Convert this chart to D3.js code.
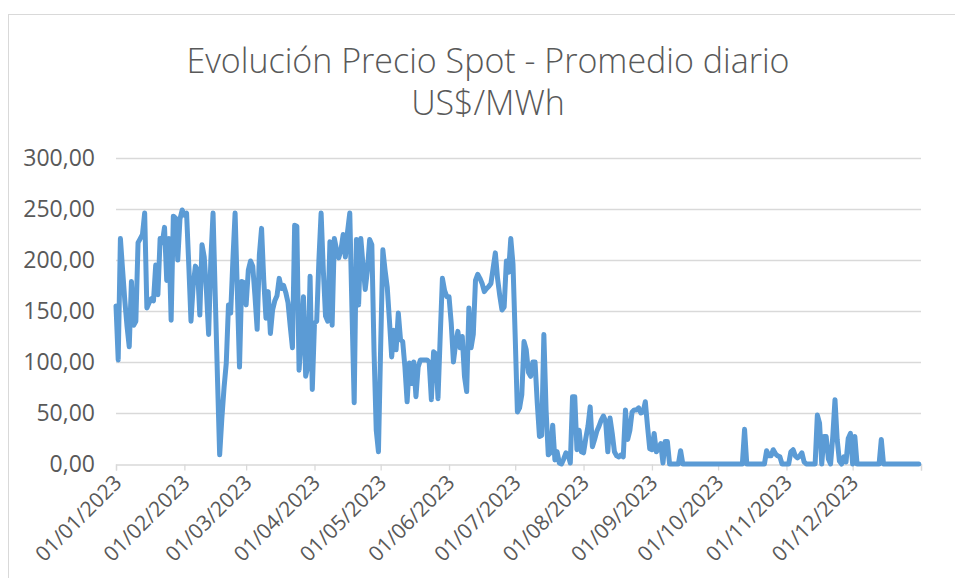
<!DOCTYPE html>
<html>
<head>
<meta charset="utf-8">
<script src="https://cdn.jsdelivr.net/npm/d3@7"></script>
<style>
  body { margin: 0; background: #fff; }
  text { font-family: "Open Sans", "Liberation Sans", sans-serif; fill: #595959; }
</style>
</head>
<body>
<svg id="chart"></svg>
<script>
// daily average spot price, US$/MWh, one array per month of 2023
const jan = [155,102,221,190,160,135,115,179,136,140, 217,221,225,246,153,158,162,160,195,166, 221,217,232,180,221,141,243,241,200,240, 249];
const feb = [244,246,195,140,175,194,190,146,215,203, 170,127,200,246,165,85,9,45,75,99, 156,148,200,246,170,95,179,178];
const mar = [156,190,199,194,165,132,205,231,180,143, 169,128,151,160,165,182,172,175,168,158, 135,114,234,233,92,125,164,86,96,184, 73];
const apr = [138,140,200,246,190,145,140,218,136,221, 210,202,210,225,203,228,246,150,60,220, 156,221,195,171,190,220,215,110,33,12];
const may = [115,210,190,173,140,105,131,112,148,122, 120,95,61,99,79,100,66,95,102,102, 102,102,100,63,110,108,64,125,182,170, 164];
const jun = [164,138,100,118,130,114,125,86,71,153, 114,127,180,186,182,177,169,172,174,177, 192,207,182,165,151,154,199,188,221,196];
const jul = [125,51,55,68,120,112,90,86,100,100, 60,27,28,127,53,9,11,38,4,12, 1,0,5,11,9,1,66,66,14,33, 12];
const aug = [11,25,37,56,17,24,32,37,43,47, 42,12,45,30,12,8,7,9,7,53, 24,33,51,53,53,55,50,51,61,37, 15];
const sep = [14,30,12,15,20,1,22,22,0,0, 0,0,0,13,0,0,0,0,0,0, 0,0,0,0,0,0,0,0,0,0];
const oct = [0,0,0,0,0,0,0,0,0,0, 0,0,34,0,0,0,0,0,0,0, 0,0,13,8,8,14,10,8,7,0, 0];
const nov = [0,0,12,14,8,6,8,11,2,0, 0,0,0,0,48,40,0,27,27,5, 0,27,63,24,3,0,7,2,25,30];
const dec = [0,27,0,0,0,0,0,0,0,0, 0,0,0,24,0,0,0,0,0,0, 0,0,0,0,0,0,0,0,0,0, 0];

const yTicks = [0, 50, 100, 150, 200, 250, 300];
const titleLines = ["Evolución Precio Spot - Promedio diario", "US$/MWh"];

const width = 955, height = 578;
const start = new Date(2023, 0, 1);
const end = new Date(2024, 0, 1);

const values = [].concat(jan, feb, mar, apr, may, jun, jul, aug, sep, oct, nov, dec);
const data = values.map((v, i) => ({ date: d3.timeDay.offset(start, i), value: v }));

const svg = d3.select("#chart")
  .attr("width", width)
  .attr("height", height);

svg.append("rect")
  .attr("width", width)
  .attr("height", height)
  .attr("fill", "#fff");

// chart area border (runs off the right and bottom edge)
svg.append("rect")
  .attr("x", 8.5)
  .attr("y", 14.5)
  .attr("width", 1000)
  .attr("height", 700)
  .attr("fill", "none")
  .attr("stroke", "#d9d9d9");

const x = d3.scaleTime()
  .domain([start, end])
  .range([116, 921]);

const y = d3.scaleLinear()
  .domain([0, 300])
  .range([464, 158]);

const fmt = d3.formatLocale({ decimal: ",", thousands: ".", grouping: [3], currency: ["$", ""] }).format(",.2f");

// gridlines
svg.append("g")
  .selectAll("line")
  .data(yTicks.slice(1))
  .enter()
  .append("line")
  .attr("x1", 116)
  .attr("x2", 921)
  .attr("y1", d => Math.round(y(d)) + 0.5)
  .attr("y2", d => Math.round(y(d)) + 0.5)
  .attr("stroke", "#d9d9d9")
  .attr("stroke-width", 1.3);

// y labels
svg.append("g")
  .selectAll("text")
  .data(yTicks)
  .enter()
  .append("text")
  .attr("x", 95)
  .attr("y", d => y(d))
  .attr("dy", "0.36em")
  .attr("text-anchor", "end")
  .style("font-size", "23px")
  .text(d => fmt(d));

// x axis
const xAxis = svg.append("g")
  .attr("transform", `translate(0,${Math.round(y(0)) + 0.5})`)
  .call(d3.axisBottom(x)
    .tickValues(d3.timeMonth.range(start, d3.timeDay.offset(end, 1)))
    .tickSize(6)
    .tickFormat(""));
xAxis.select(".domain").attr("stroke", "#d9d9d9").attr("stroke-width", 1.3);
xAxis.selectAll(".tick line").attr("stroke", "#d9d9d9").attr("stroke-width", 1.3);

const fmtDate = d3.timeFormat("%d/%m/%Y");
svg.append("g")
  .selectAll("text")
  .data(d3.timeMonth.range(start, end))
  .enter()
  .append("text")
  .attr("transform", d => `translate(${x(d) + 7},${484}) rotate(-45)`)
  .attr("text-anchor", "end")
  .style("font-size", "21px")
  .text(d => fmtDate(d));

// series
const line = d3.line()
  .x(d => x(d.date))
  .y(d => y(d.value));

svg.append("path")
  .datum(data)
  .attr("d", line)
  .attr("fill", "none")
  .attr("stroke", "#5b9bd5")
  .attr("stroke-width", 5)
  .attr("stroke-linejoin", "round")
  .attr("stroke-linecap", "round");

// title
svg.append("g")
  .selectAll("text")
  .data(titleLines)
  .enter()
  .append("text")
  .attr("x", 488)
  .attr("y", (d, i) => 73 + i * 42)
  .attr("text-anchor", "middle")
  .style("font-size", "34px")
  .style("font-weight", 300)
  .text(d => d);
</script>
</body>
</html>
